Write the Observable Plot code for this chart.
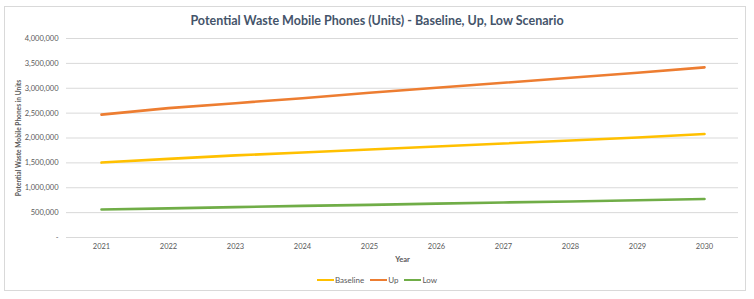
<!DOCTYPE html>
<html>
<head>
<meta charset="utf-8">
<script src="https://cdn.jsdelivr.net/npm/d3@7"></script>
<script src="https://cdn.jsdelivr.net/npm/@observablehq/plot@0.6"></script>
<style>
  body { margin: 0; background: #fff; font-family: Lato, "Open Sans", sans-serif; }
  #wrap { position: relative; width: 754px; height: 299px; overflow: hidden; }
  #frame { position: absolute; left: 4px; top: 6px; width: 742px; height: 285px; border: 1px solid #d9d9d9; box-sizing: border-box; }
  #title { position: absolute; left: 0; width: 754px; top: 13px; text-align: center; font-weight: bold; font-size: 12.5px; color: #44546a; }
  #chart { position: absolute; left: 0; top: 0; }
  #legend { position: absolute; top: 275px; left: 0; width: 754px; display: flex; justify-content: center; gap: 6px; font-size: 8px; color: #595959; }
  .item { display: flex; align-items: center; }
  .sw { display: inline-block; width: 17px; height: 2.5px; margin-right: 1px; }
</style>
</head>
<body>
<div id="wrap">
  <div id="frame"></div>
  <div id="chart"></div>
  <div id="title">Potential Waste Mobile Phones (Units) - Baseline, Up, Low Scenario</div>
  <div id="legend"></div>
</div>
<script>
const years = [2021, 2022, 2023, 2024, 2025, 2026, 2027, 2028, 2029, 2030];
const baseline = [1506000, 1580000, 1650000, 1710000, 1770000, 1830000, 1890000, 1950000, 2010000, 2080000];
const up = [2470000, 2600000, 2700000, 2800000, 2910000, 3010000, 3110000, 3210000, 3310000, 3420000];
const low = [562000, 585000, 610000, 635000, 655000, 680000, 705000, 725000, 750000, 775000];
const seriesNames = ["Baseline", "Up", "Low"];
const seriesColors = ["#ffc000", "#ed7d31", "#70ad47"];
const yTicks = [0, 500000, 1000000, 1500000, 2000000, 2500000, 3000000, 3500000, 4000000];
const yTitle = "Potential Waste Mobile Phones in Units";
const xTitle = "Year";

const seriesValues = [baseline, up, low];
const data = [];
seriesNames.forEach((s, i) => years.forEach((yr, j) => data.push({year: yr, value: seriesValues[i][j], series: s})));

const fmt = d3.format(",");
const chart = Plot.plot({
  width: 754,
  height: 268,
  marginLeft: 66,
  marginRight: 16,
  marginTop: 38,
  marginBottom: 31,
  style: {fontFamily: "Lato, 'Open Sans', sans-serif", fontSize: "7.5px", color: "#595959", background: "transparent"},
  x: {type: "point", domain: years, padding: 0.5},
  y: {domain: [0, 4000000]},
  color: {domain: seriesNames, range: seriesColors},
  marks: [
    Plot.gridY(yTicks, {stroke: "#d9d9d9", strokeOpacity: 1}),
    Plot.axisY(yTicks, {tickSize: 0, tickPadding: 8, tickFormat: d => d === 0 ? "-" : fmt(d), label: yTitle, labelAnchor: "center", labelOffset: 50}),
    Plot.axisX({tickSize: 0, tickPadding: 6, tickFormat: d => String(d), label: xTitle, labelAnchor: "center", labelOffset: 24}),
    Plot.line(data, {x: "year", y: "value", stroke: "series", strokeWidth: 2.6, z: "series"})
  ]
});
d3.select(chart).selectAll("[aria-label='y-axis label'] text").text(yTitle).style("font-weight", "bold").style("font-size", "6.6px");
d3.select(chart).selectAll("[aria-label='x-axis label'] text").text(xTitle).style("font-weight", "bold").style("font-size", "7.5px");
document.getElementById("chart").appendChild(chart);

const legend = document.getElementById("legend");
seriesNames.forEach((s, i) => {
  const it = document.createElement("div");
  it.className = "item";
  it.innerHTML = `<span class="sw" style="background:${seriesColors[i]}"></span>${s}`;
  legend.appendChild(it);
});
</script>
</body>
</html>
